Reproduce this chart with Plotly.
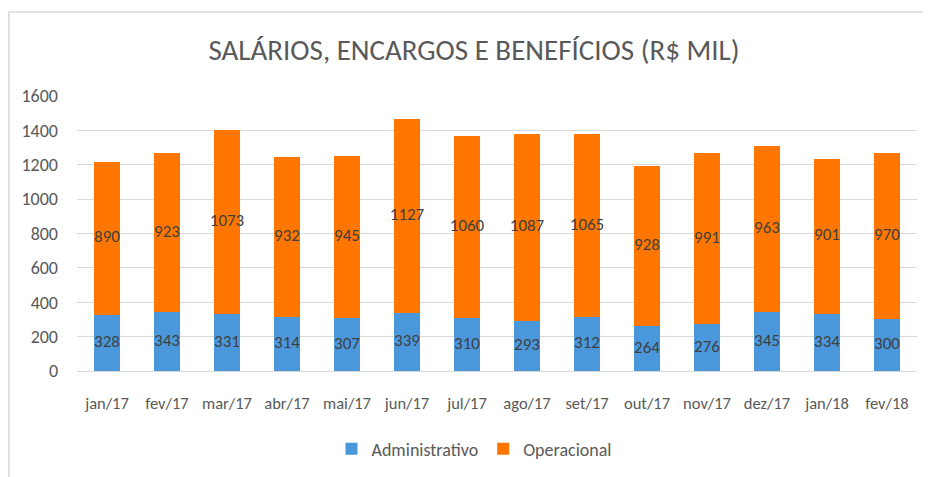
import plotly.graph_objects as go

months = ["jan/17", "fev/17", "mar/17", "abr/17", "mai/17", "jun/17", "jul/17",
          "ago/17", "set/17", "out/17", "nov/17", "dez/17", "jan/18", "fev/18"]
administrativo = [328, 343, 331, 314, 307, 339, 310, 293, 312, 264, 276, 345, 334, 300]
operacional = [890, 923, 1073, 932, 945, 1127, 1060, 1087, 1065, 928, 991, 963, 901, 970]
y_ticks = [0, 200, 400, 600, 800, 1000, 1200, 1400, 1600]

FONT = "Carlito, Calibri, Lato, sans-serif"
# the page body adds an 8px margin, so the figure is sized to fill the rest of the window
W, H = 923, 469
ML, MR, MT, MB = 69, 14, 88, 106

fig = go.Figure()
fig.add_trace(go.Bar(
    x=months, y=administrativo, name="Administrativo",
    marker=dict(color="#4A98DB", line=dict(width=0)),
    textposition="none", hoverinfo="x+y+name",
))
fig.add_trace(go.Bar(
    x=months, y=operacional, name="Operacional",
    marker=dict(color="#FF7700", line=dict(width=0)),
    textposition="none", hoverinfo="x+y+name",
))

# data labels centred in each stacked segment
adm_mid = [a / 2 for a in administrativo]
op_mid = [a + o / 2 for a, o in zip(administrativo, operacional)]
fig.add_trace(go.Scatter(
    x=months + months, y=adm_mid + op_mid,
    text=[str(v) for v in administrativo + operacional],
    mode="text", textposition="middle center",
    textfont=dict(color="#3F3F3F", size=17, family=FONT),
    showlegend=False, hoverinfo="skip",
))

pw = W - ML - MR
ph = H - MT - MB
fig.update_layout(
    width=W, height=H,
    barmode="stack", bargap=0.58,
    margin=dict(l=ML, r=MR, t=MT, b=MB, autoexpand=False),
    paper_bgcolor="white", plot_bgcolor="white",
    font=dict(family=FONT, color="#595959", size=15),
    title=dict(text="SALÁRIOS, ENCARGOS E BENEFÍCIOS (R$ MIL)",
               x=466 / W, xanchor="center", y=1 - 42 / H, yanchor="middle",
               font=dict(size=29, color="#595959", family=FONT)),
    xaxis=dict(range=[-0.5, len(months) - 0.5], showgrid=False, showline=False, ticks="",
               tickfont=dict(size=16.5, color="#595959"), ticklabelstandoff=20),
    yaxis=dict(range=[0, 1600], tickvals=y_ticks, showgrid=True, gridcolor="#D9D9D9",
               gridwidth=1, zeroline=True, zerolinecolor="#D9D9D9", zerolinewidth=1,
               ticks="", tickfont=dict(size=18, color="#595959"), ticklabelstandoff=18),
    legend=dict(orientation="h", x=(466 - ML) / pw, xanchor="center",
                y=-(441 - (H - MB)) / ph, yanchor="middle",
                font=dict(size=18, color="#595959"),
                itemwidth=30, traceorder="normal"),
    shapes=[dict(type="rect", xref="paper", yref="paper",
                 x0=-(ML - 1) / pw, x1=(W - ML + 20) / pw,
                 y0=-(MB + 20) / ph, y1=1 + (MT - 4) / ph,
                 line=dict(color="#D9D9D9", width=1.5), fillcolor="rgba(0,0,0,0)",
                 layer="below")],
)

fig.write_html("out.html")
